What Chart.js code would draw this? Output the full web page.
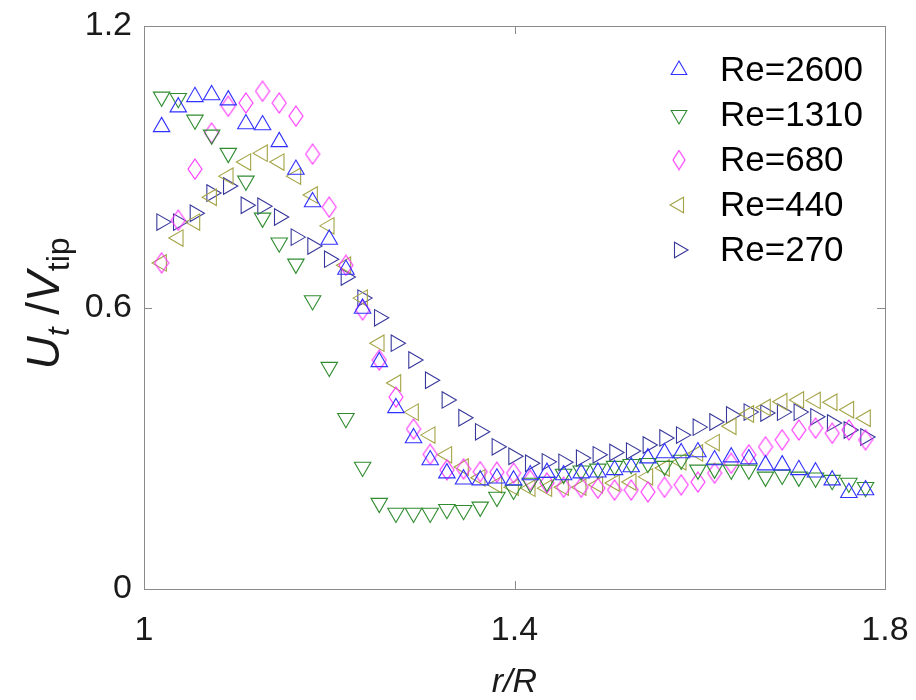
<!DOCTYPE html>
<html>
<head>
<meta charset="utf-8">
<script src="https://cdn.jsdelivr.net/npm/chart.js@4.4.1/dist/chart.umd.min.js"></script>
<style>
  html, body { margin: 0; background: #fff; }
  #wrap { width: 916px; height: 700px; }
</style>
</head>
<body>
<div id="wrap"><canvas id="chart" width="916" height="700"></canvas></div>
<script>
// radial position r/R, shared by all series
const rR = [1.019, 1.037, 1.055, 1.073, 1.091, 1.110, 1.128, 1.146, 1.164, 1.182,
            1.200, 1.218, 1.236, 1.254, 1.272, 1.291, 1.309, 1.327, 1.345, 1.363,
            1.381, 1.399, 1.417, 1.435, 1.453, 1.472, 1.490, 1.508, 1.526, 1.544,
            1.562, 1.580, 1.598, 1.616, 1.634, 1.653, 1.671, 1.689, 1.707, 1.725,
            1.743, 1.761, 1.779];

// Ut / Vtip for each Reynolds number
const re2600 = [0.985, 1.027, 1.049, 1.053, 1.042, 0.991, 0.989, 0.953, 0.894, 0.825,
                0.745, 0.681, 0.598, 0.484, 0.386, 0.322, 0.275, 0.247, 0.234, 0.232,
                0.236, 0.232, 0.243, 0.248, 0.243, 0.247, 0.249, 0.254, 0.260, 0.279,
                0.290, 0.290, 0.292, 0.275, 0.281, 0.277, 0.264, 0.264, 0.254, 0.249,
                0.232, 0.205, 0.211];
const re1310 = [1.049, 1.046, 1.000, 0.968, 0.929, 0.870, 0.791, 0.738, 0.693, 0.615,
                0.473, 0.364, 0.260, 0.183, 0.162, 0.162, 0.162, 0.170, 0.168, 0.175,
                0.196, 0.211, 0.226, 0.228, 0.245, 0.252, 0.256, 0.262, 0.266, 0.268,
                0.262, 0.275, 0.254, 0.256, 0.254, 0.254, 0.239, 0.243, 0.239, 0.237,
                0.232, 0.226, 0.217];
const re680  = [0.695, 0.786, 0.895, 0.972, 1.029, 1.036, 1.061, 1.036, 1.008, 0.927,
                0.814, 0.690, 0.595, 0.488, 0.409, 0.341, 0.287, 0.254, 0.256, 0.250,
                0.249, 0.247, 0.232, 0.226, 0.217, 0.217, 0.215, 0.211, 0.211, 0.207,
                0.217, 0.222, 0.228, 0.247, 0.268, 0.286, 0.303, 0.318, 0.339, 0.343,
                0.332, 0.339, 0.318];
const re440  = [0.695, 0.748, 0.782, 0.835, 0.880, 0.910, 0.929, 0.910, 0.880, 0.840,
                0.774, 0.690, 0.620, 0.524, 0.439, 0.377, 0.328, 0.286, 0.260, 0.237,
                0.222, 0.217, 0.215, 0.215, 0.217, 0.217, 0.222, 0.226, 0.228, 0.239,
                0.258, 0.271, 0.290, 0.312, 0.347, 0.373, 0.387, 0.399, 0.403, 0.402,
                0.398, 0.382, 0.364];
const re270  = [0.782, 0.782, 0.801, 0.844, 0.859, 0.818, 0.816, 0.793, 0.750, 0.731,
                0.703, 0.665, 0.620, 0.578, 0.524, 0.488, 0.445, 0.403, 0.365, 0.335,
                0.303, 0.283, 0.268, 0.271, 0.270, 0.279, 0.286, 0.291, 0.294, 0.307,
                0.322, 0.328, 0.345, 0.356, 0.371, 0.377, 0.375, 0.377, 0.377, 0.367,
                0.354, 0.339, 0.324];

const labels = ["Re=2600", "Re=1310", "Re=680", "Re=440", "Re=270"];
const xTicks = [1, 1.4, 1.8];
const yTicks = [0, 0.6, 1.2];

const FONT = "'Liberation Sans', Arial, Helvetica, sans-serif";

// tall diamond like matlab's 'd' marker
function diamond(color, w, h) {
    const c = document.createElement("canvas");
    c.width = w; c.height = h;
    const g = c.getContext("2d");
    g.strokeStyle = color;
    g.lineWidth = 1.1;
    g.beginPath();
    g.moveTo(w / 2, 1);
    g.lineTo(w - 1, h / 2);
    g.lineTo(w / 2, h - 1);
    g.lineTo(1, h / 2);
    g.closePath();
    g.stroke();
    return c;
}

function series(ys, label, color, style, rotation) {
    return {
        label: label,
        data: rR.map((x, i) => ({ x: x, y: ys[i] })),
        showLine: false,
        pointStyle: style,
        rotation: rotation,
        pointRadius: 9.5,
        pointBorderWidth: 1.1,
        borderColor: color,
        backgroundColor: "rgba(0,0,0,0)",
        clip: false
    };
}

const colors = ["#3030ff", "#2f8c2f", "#ff30ff", "#a3a345", "#38389c"];

const datasets = [
    series(re2600, labels[0], colors[0], "triangle", 0),
    series(re1310, labels[1], colors[1], "triangle", 180),
    series(re680, labels[2], colors[2], diamond(colors[2], 16, 22), 0),
    series(re440, labels[3], colors[3], "triangle", 270),
    series(re270, labels[4], colors[4], "triangle", 90)
];
const legendDiamond = diamond(colors[2], 14, 21);

// box around the axes with inward tick marks on all four sides
const framePlugin = {
    id: "frame",
    afterDraw(chart) {
        const ctx = chart.ctx, a = chart.chartArea;
        const xs = chart.scales.x, ys = chart.scales.y;
        ctx.save();
        ctx.strokeStyle = "#8a8a8a";
        ctx.lineWidth = 1;
        ctx.strokeRect(Math.round(a.left) + 0.5, Math.round(a.top) + 0.5,
                       Math.round(a.right - a.left), Math.round(a.bottom - a.top));
        ctx.beginPath();
        xTicks.forEach(v => {
            const px = Math.round(xs.getPixelForValue(v)) + 0.5;
            ctx.moveTo(px, a.bottom); ctx.lineTo(px, a.bottom - 8);
            ctx.moveTo(px, a.top); ctx.lineTo(px, a.top + 8);
        });
        yTicks.forEach(v => {
            const py = Math.round(ys.getPixelForValue(v)) + 0.5;
            ctx.moveTo(a.left, py); ctx.lineTo(a.left + 8, py);
            ctx.moveTo(a.right, py); ctx.lineTo(a.right - 8, py);
        });
        ctx.stroke();
        ctx.restore();
    }
};

// legend drawn inside the upper right of the plot
const legendPlugin = {
    id: "insideLegend",
    afterDraw(chart) {
        const ctx = chart.ctx, a = chart.chartArea;
        const mx = a.right - 206, tx = a.right - 165;
        ctx.save();
        chart.data.datasets.forEach((ds, i) => {
            const y = a.top + 44 + i * 45;
            ctx.strokeStyle = ds.borderColor;
            ctx.fillStyle = "rgba(0,0,0,0)";
            ctx.lineWidth = 1.1;
            const style = typeof ds.pointStyle === "string" ? ds.pointStyle : legendDiamond;
            Chart.helpers.drawPoint(ctx, { pointStyle: style, rotation: ds.rotation, radius: 9, borderWidth: 1.1 }, mx, y);
            ctx.fillStyle = "#000";
            ctx.font = "35px " + FONT;
            ctx.textAlign = "left";
            ctx.textBaseline = "middle";
            ctx.fillText(ds.label, tx, y + 1);
        });
        ctx.restore();
    }
};

// y axis title with subscripts: U_t /V_tip
const yTitlePlugin = {
    id: "yTitle",
    afterDraw(chart) {
        const ctx = chart.ctx, a = chart.chartArea;
        const runs = [
            { t: "U", f: "italic 46px " + FONT, dy: 0 },
            { t: "t", f: "italic 32px " + FONT, dy: 10 },
            { t: " /", f: "46px " + FONT, dy: 0 },
            { t: "V", f: "italic 46px " + FONT, dy: 0 },
            { t: "tip", f: "32px " + FONT, dy: 10 }
        ];
        ctx.save();
        let total = 0;
        runs.forEach(r => { ctx.font = r.f; r.w = ctx.measureText(r.t).width; total += r.w; });
        ctx.translate(59, (a.top + a.bottom) / 2 - 4);
        ctx.rotate(-Math.PI / 2);
        ctx.fillStyle = "#1a1a1a";
        ctx.textBaseline = "alphabetic";
        let x = -total / 2;
        runs.forEach(r => {
            ctx.font = r.f;
            ctx.fillText(r.t, x, r.dy);
            x += r.w;
        });
        ctx.restore();
    }
};

new Chart(document.getElementById("chart"), {
    type: "scatter",
    data: { datasets: datasets },
    options: {
        responsive: false,
        devicePixelRatio: 1,
        animation: false,
        events: [],
        layout: { padding: { left: 0, top: 26, right: 31, bottom: 0 } },
        plugins: {
            legend: { display: false },
            tooltip: { enabled: false }
        },
        scales: {
            x: {
                type: "linear",
                min: 1,
                max: 1.8,
                afterBuildTicks: s => { s.ticks = xTicks.map(v => ({ value: v })); },
                afterFit: s => { s.height = 111; s.paddingLeft = 0; s.paddingRight = 0; },
                grid: { display: false },
                border: { display: false },
                ticks: {
                    padding: 13,
                    color: "#1a1a1a",
                    font: { family: FONT, size: 34 },
                    callback: v => String(v)
                },
                title: {
                    display: true,
                    text: "r/R",
                    color: "#1a1a1a",
                    font: { family: FONT, size: 34, style: "italic", lineHeight: 1.0 },
                    padding: { top: 0, bottom: 0 }
                }
            },
            y: {
                type: "linear",
                min: 0,
                max: 1.2,
                afterBuildTicks: s => { s.ticks = yTicks.map(v => ({ value: v })); },
                afterFit: s => { s.width = 144; s.paddingTop = 0; s.paddingBottom = 0; },
                grid: { display: false },
                border: { display: false },
                ticks: {
                    padding: 4,
                    color: "#1a1a1a",
                    font: { family: FONT, size: 34 },
                    callback: v => String(v)
                }
            }
        }
    },
    plugins: [framePlugin, legendPlugin, yTitlePlugin]
});
</script>
</body>
</html>
